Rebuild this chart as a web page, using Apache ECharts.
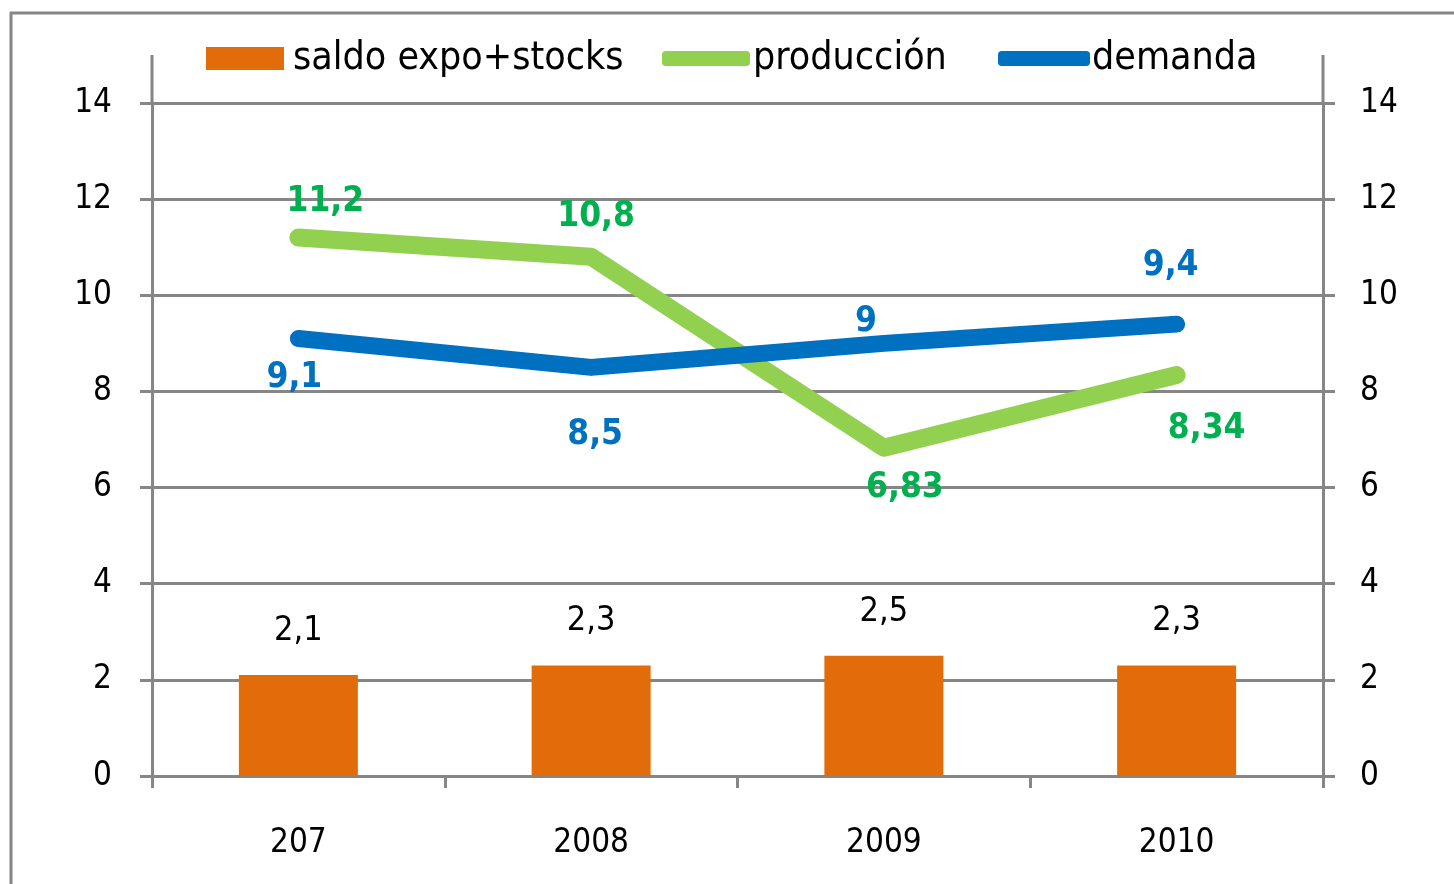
<!DOCTYPE html>
<html>
<head>
<meta charset="utf-8">
<script src="https://cdn.jsdelivr.net/npm/echarts@6/dist/echarts.min.js"></script>
<style>html,body{margin:0;padding:0;background:#fff}#c{width:1454px;height:884px}</style>
</head>
<body>
<div id="c"></div>
<script>
const categories = ['207', '2008', '2009', '2010'];
const saldo = [2.1, 2.3, 2.5, 2.3];
const produccion = [11.2, 10.8, 6.83, 8.34];
const demanda = [9.1, 8.5, 9, 9.4];
const yTicks = [0, 2, 4, 6, 8, 10, 12, 14];

const FONT = '"DejaVu Sans Condensed", "Liberation Sans Narrow", sans-serif';
const GRID = '#868686';
const fmt = v => String(v).replace('.', ',');

const prodOffsets = [[27, -36], [5, -40], [21, 40], [30, 54]];
const demOffsets = [[-4, 39], [4, 68], [-18, -21], [-6, -58]];

const chart = echarts.init(document.getElementById('c'));
const yAxisBase = (pos, margin) => ({
  type: 'value', position: pos, min: yTicks[0], max: yTicks[yTicks.length - 1], interval: 2,
  axisLine: { show: true, lineStyle: { color: GRID, width: 3 } },
  axisTick: { show: true, inside: false, length: 12, lineStyle: { color: GRID, width: 3 } },
  splitLine: { show: pos === 'left', lineStyle: { color: GRID, width: 3 } },
  axisLabel: { margin: margin, color: '#000', fontFamily: FONT, fontSize: 33, padding: [6, 0, 0, 0] }
});

const legendText = pad => ({ fontFamily: FONT, fontSize: 39, color: '#000', padding: [0, 0, 0, pad] });

chart.setOption({
  animation: false,
  grid: { left: 152, right: 131, top: 103, bottom: 108 },
  legend: [
    { data: ['saldo expo+stocks'], left: 206, top: 39, padding: 0, icon: 'rect', itemWidth: 78, itemHeight: 23,
      textStyle: legendText(4) },
    { data: ['producción'], left: 662, top: 39, padding: 0, itemWidth: 88, itemHeight: 15, icon: 'roundRect',
      textStyle: legendText(-2) },
    { data: ['demanda'], left: 998, top: 39, padding: 0, itemWidth: 92, itemHeight: 15, icon: 'roundRect',
      textStyle: legendText(-3) }
  ],
  xAxis: {
    type: 'category', data: categories, boundaryGap: true,
    axisLine: { lineStyle: { color: GRID, width: 3 } },
    axisTick: { show: true, length: 12, lineStyle: { color: GRID, width: 3 } },
    axisLabel: { margin: 51, color: '#000', fontFamily: FONT, fontSize: 33 }
  },
  yAxis: [yAxisBase('left', 40), yAxisBase('right', 37)],
  graphic: [
    { type: 'line', shape: { x1: 10, y1: 13, x2: 1454, y2: 13 }, style: { stroke: GRID, lineWidth: 3 } },
    { type: 'line', shape: { x1: 11, y1: 12, x2: 11, y2: 884 }, style: { stroke: GRID, lineWidth: 3 } },
    { type: 'line', shape: { x1: 152, y1: 55, x2: 152, y2: 104 }, style: { stroke: GRID, lineWidth: 3 } },
    { type: 'line', shape: { x1: 1323, y1: 55, x2: 1323, y2: 104 }, style: { stroke: GRID, lineWidth: 3 } }
  ],
  series: [
    {
      name: 'saldo expo+stocks', type: 'bar', data: saldo, barWidth: 119,
      itemStyle: { color: '#E36C0A' },
      label: { show: true, position: 'top', distance: 27, formatter: p => fmt(p.value),
        color: '#000', fontFamily: FONT, fontSize: 34 }
    },
    {
      name: 'producción', type: 'line', symbol: 'circle', symbolSize: 1,
      data: produccion.map((v, i) => ({ value: v, label: { offset: prodOffsets[i] } })),
      lineStyle: { color: '#92D050', width: 18, cap: 'round', join: 'round' },
      itemStyle: { color: '#92D050' },
      label: { show: true, position: 'inside', formatter: p => fmt(p.value),
        color: '#00B050', fontFamily: FONT, fontSize: 35, fontWeight: 'bold' }
    },
    {
      name: 'demanda', type: 'line', symbol: 'circle', symbolSize: 1,
      data: demanda.map((v, i) => ({ value: v, label: { offset: demOffsets[i] } })),
      lineStyle: { color: '#0070C0', width: 17, cap: 'round', join: 'round' },
      itemStyle: { color: '#0070C0' },
      label: { show: true, position: 'inside', formatter: p => fmt(p.value),
        color: '#0070C0', fontFamily: FONT, fontSize: 35, fontWeight: 'bold' }
    }
  ]
});
</script>
</body>
</html>
